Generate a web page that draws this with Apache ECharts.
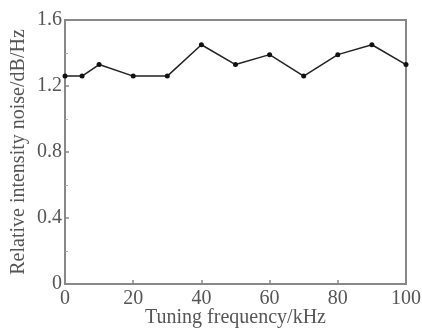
<!DOCTYPE html>
<html>
<head>
<meta charset="utf-8">
<script src="https://cdn.jsdelivr.net/npm/echarts@6/dist/echarts.min.js"></script>
<style>
  html, body { margin: 0; padding: 0; background: #fff; }
  #chart { width: 422px; height: 329px; }
</style>
</head>
<body>
<div id="chart"></div>
<script>
// tuning frequency (kHz) and relative intensity noise (dB/Hz)
const frequency = [0, 5, 10, 20, 30, 40, 50, 60, 70, 80, 90, 100]
const noise = [1.26, 1.26, 1.33, 1.26, 1.26, 1.45, 1.33, 1.39, 1.26, 1.39, 1.45, 1.33]

const textColor = '#555'
const frameColor = '#888'
const font = 'Liberation Serif'

const chart = echarts.init(document.getElementById('chart'), null, { renderer: 'canvas' })

const axisCommon = {
  type: 'value',
  nameLocation: 'middle',
  nameMoveOverlap: false,
  nameTextStyle: { fontFamily: font, fontSize: 20, color: textColor },
  axisLine: { show: true, lineStyle: { color: frameColor, width: 2 } },
  axisTick: { show: true, inside: true, length: 4, lineStyle: { color: frameColor, width: 1.5 } },
  axisLabel: { fontFamily: font, fontSize: 20, color: textColor },
  splitLine: { show: false }
}

chart.setOption({
  animation: false,
  backgroundColor: '#fff',
  grid: {
    left: 65, right: 16, top: 20, bottom: 45,
    outerBoundsMode: 'none',
    show: true, borderColor: frameColor, borderWidth: 2
  },
  xAxis: Object.assign({}, axisCommon, {
    name: 'Tuning frequency/kHz',
    nameGap: 24,
    min: 0,
    max: 100,
    interval: 20,
    axisLabel: Object.assign({}, axisCommon.axisLabel, { margin: 5 })
  }),
  yAxis: Object.assign({}, axisCommon, {
    name: 'Relative intensity noise/dB/Hz',
    nameGap: 36,
    min: 0,
    max: 1.6,
    interval: 0.4,
    axisLabel: Object.assign({}, axisCommon.axisLabel, { margin: 3 }),
    minorTick: { show: true, splitNumber: 2, length: 3, lineStyle: { color: '#aaa', width: 1 } }
  }),
  series: [{
    type: 'line',
    data: frequency.map((f, i) => [f, noise[i]]),
    symbol: 'circle',
    symbolSize: 5,
    lineStyle: { color: '#222', width: 1.5 },
    itemStyle: { color: '#111' }
  }]
})
</script>
</body>
</html>
